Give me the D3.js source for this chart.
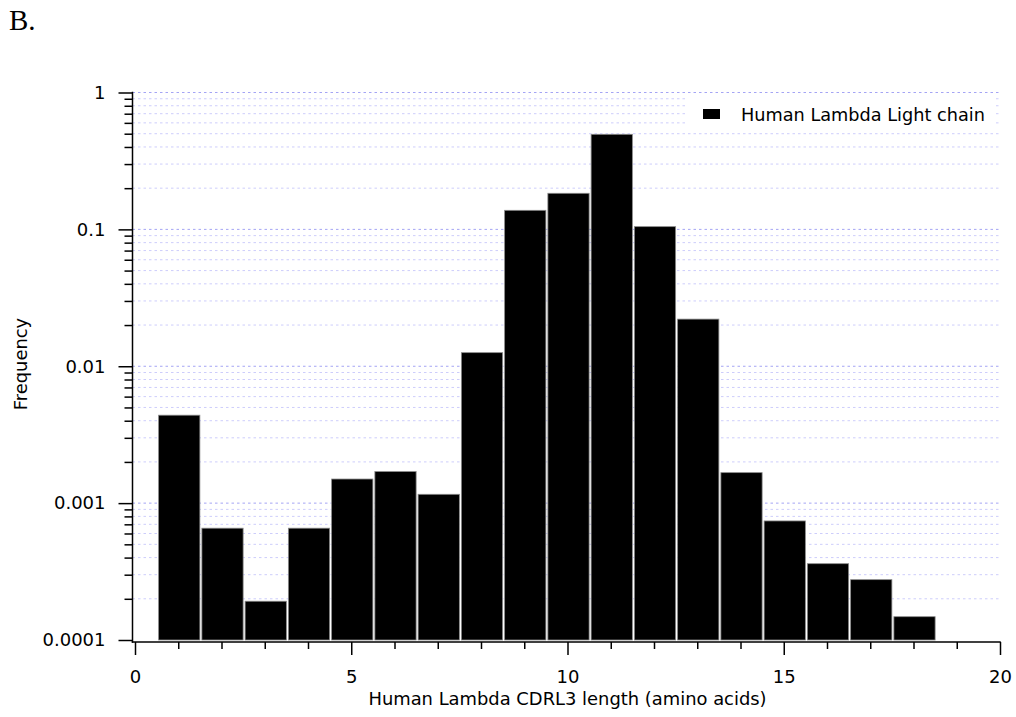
<!DOCTYPE html>
<html>
<head>
<meta charset="utf-8">
<script src="https://cdn.jsdelivr.net/npm/d3@7"></script>
<style>
  html, body { margin: 0; padding: 0; background: #fff; }
  svg { display: block; }
  .sans { font-family: "DejaVu Sans", Verdana, sans-serif; fill: #000; }
  .serif { font-family: "Liberation Serif", "Times New Roman", serif; fill: #000; }
</style>
</head>
<body>
<svg id="chart" width="1016" height="717"></svg>
<script>
// CDRL3 length histogram (amino acids) and fraction of sequences per length
const cdrLengths = [1, 2, 3, 4, 5, 6, 7, 8, 9, 10, 11, 12, 13, 14, 15, 16, 17, 18];
const frequencies = [0.00439, 0.000656, 0.000192, 0.000656, 0.00150, 0.00170, 0.00116,
                     0.01257, 0.1378, 0.1835, 0.495, 0.1047, 0.0221, 0.00167,
                     0.000741, 0.000361, 0.000276, 0.000148];
const xMajorTicks = [0, 5, 10, 15, 20];
const yMajorTicks = [0.0001, 0.001, 0.01, 0.1, 1];
const yTickLabels = ["0.0001", "0.001", "0.01", "0.1", "1"];
const seriesName = "Human Lambda Light chain";
const xTitle = "Human Lambda CDRL3 length (amino acids)";
const yTitle = "Frequency";
const panelLabel = "B.";

const svg = d3.select("#chart");
const tickFont = "18px";
const titleFont = "17.9px";

const x = d3.scaleLinear().domain([0, 20]).range([135, 1000]);
const y = d3.scaleLog().domain([1e-4, 1]).range([640, 92.5]);

const axisX = x(0) - 2.5;      // y axis sits slightly left of x = 0
const axisY = y(1e-4) + 2;     // x axis sits slightly below the lowest decade

// minor values: 2..9 times each decade
const yMinor = [];
for (let e = -4; e < 0; e++) {
  for (let m = 2; m <= 9; m++) yMinor.push(m * Math.pow(10, e));
}
const xMinor = d3.range(0, 21).filter(v => v % 5 !== 0);

// dashed horizontal grid (the bottom decade is covered by the axis)
const grid = svg.append("g");
grid.selectAll("line.minor").data(yMinor).join("line")
  .attr("x1", axisX).attr("x2", x(20))
  .attr("y1", d => y(d)).attr("y2", d => y(d))
  .attr("stroke", "#cdcdfb").attr("stroke-width", 1)
  .attr("stroke-dasharray", "2.5,3");
grid.selectAll("line.major").data(yMajorTicks.slice(1)).join("line")
  .attr("x1", axisX).attr("x2", x(20))
  .attr("y1", d => y(d)).attr("y2", d => y(d))
  .attr("stroke", "#a4a4f4").attr("stroke-width", 1)
  .attr("stroke-dasharray", "2.5,3");

// histogram bars
svg.append("g").selectAll("rect").data(cdrLengths).join("rect")
  .attr("x", d => x(d - 0.5) + 2)
  .attr("width", d => x(d + 0.5) - x(d - 0.5) - 2)
  .attr("y", (d, i) => y(frequencies[i]))
  .attr("height", (d, i) => y(1e-4) - y(frequencies[i]))
  .attr("fill", "#000")
  .attr("stroke", "#8a8a8a")
  .attr("stroke-width", 0.8);

// y axis: labelled decades plus unlabelled minor ticks
const yAxisMajor = d3.axisLeft(y).tickValues(yMajorTicks)
  .tickFormat((d, i) => yTickLabels[i]).tickSize(14).tickPadding(13);
const yAxisMinor = d3.axisLeft(y).tickValues(yMinor).tickFormat("").tickSize(8);

svg.append("g").attr("transform", `translate(${axisX},0)`).call(yAxisMinor);
svg.append("g").attr("transform", `translate(${axisX},0)`).call(yAxisMajor);

// x axis
const xAxisMajor = d3.axisBottom(x).tickValues(xMajorTicks).tickSize(13).tickPadding(15)
  .tickFormat(d3.format("d"));
const xAxisMinor = d3.axisBottom(x).tickValues(xMinor).tickFormat("").tickSize(7);
svg.append("g").attr("transform", `translate(0,${axisY})`).call(xAxisMinor);
svg.append("g").attr("transform", `translate(0,${axisY})`).call(xAxisMajor);

svg.selectAll(".domain").remove();
svg.selectAll(".tick line").attr("stroke", "#000").attr("stroke-width", 1.5);
svg.selectAll(".tick text").attr("class", "sans").style("font-size", tickFont);

// axis lines
svg.append("line")
  .attr("x1", axisX).attr("x2", axisX)
  .attr("y1", y(1) - 0.75).attr("y2", axisY + 0.75)
  .attr("stroke", "#000").attr("stroke-width", 1.5);
svg.append("line")
  .attr("x1", axisX - 0.75).attr("x2", x(20) + 0.75)
  .attr("y1", axisY).attr("y2", axisY)
  .attr("stroke", "#000").attr("stroke-width", 1.5);

// axis titles
svg.append("text").attr("class", "sans")
  .attr("x", (x(0) + x(20)) / 2).attr("y", 705)
  .attr("text-anchor", "middle").style("font-size", titleFont)
  .text(xTitle);
svg.append("text").attr("class", "sans")
  .attr("transform", `translate(27,364) rotate(-90)`)
  .attr("text-anchor", "middle").style("font-size", titleFont)
  .text(yTitle);

// panel letter
svg.append("text").attr("class", "serif")
  .attr("x", 9).attr("y", 29.5)
  .style("font-size", "29px")
  .text(panelLabel);

// legend
const legend = svg.append("g");
legend.append("rect")
  .attr("x", 687).attr("y", 96).attr("width", 306).attr("height", 33)
  .attr("fill", "#fff");
legend.append("rect")
  .attr("x", 703).attr("y", 109).attr("width", 17).attr("height", 10)
  .attr("fill", "#000");
legend.append("text").attr("class", "sans")
  .attr("x", 741).attr("y", 120.5).style("font-size", "17.7px")
  .text(seriesName);
</script>
</body>
</html>
